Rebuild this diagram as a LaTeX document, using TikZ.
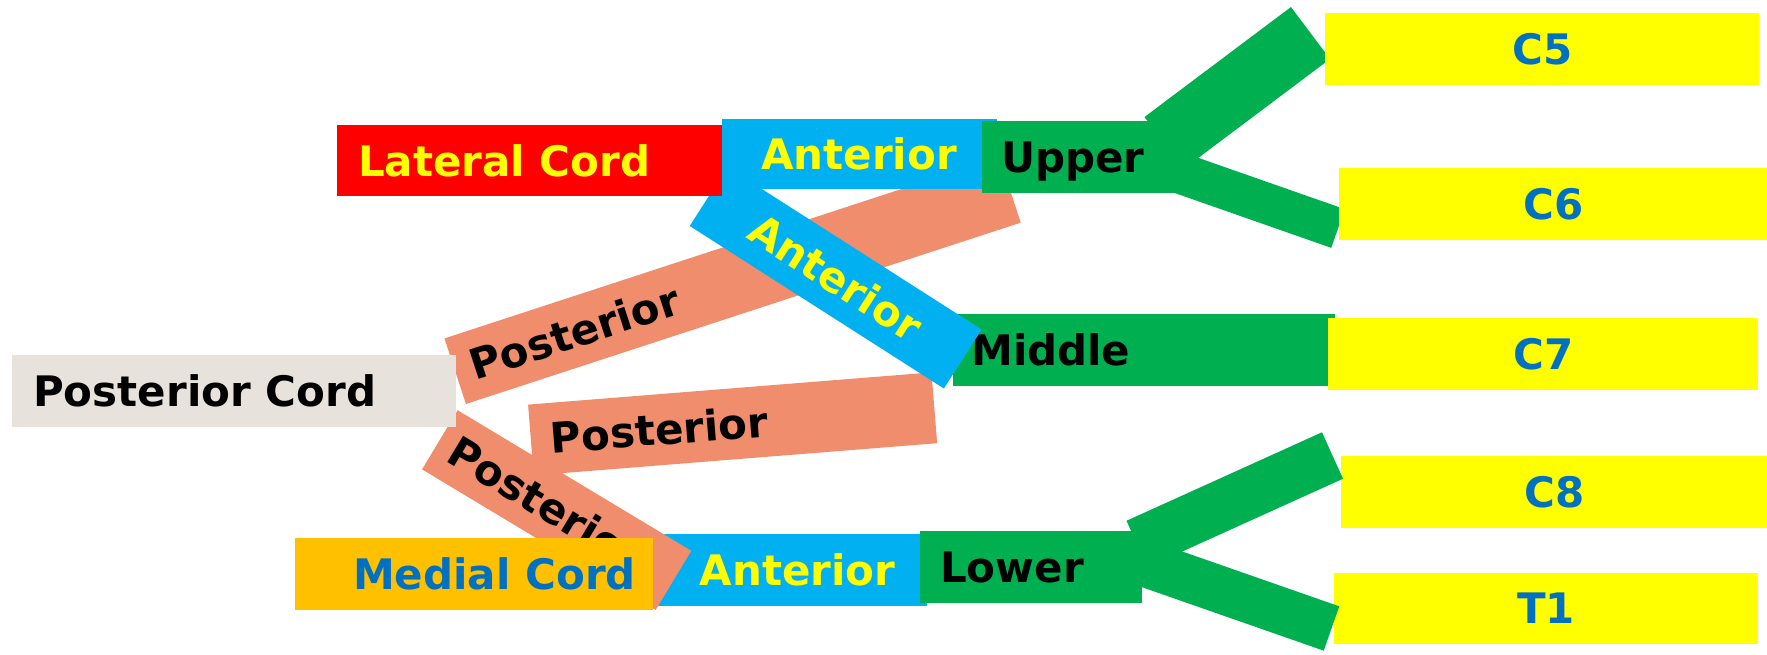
\documentclass[tikz,border=0pt]{standalone}
\usepackage{fontspec}
\setmainfont{DejaVu Sans}
\definecolor{cred}{HTML}{FF0000}
\definecolor{cyel}{HTML}{FFFF00}
\definecolor{ccyan}{HTML}{00B0F0}
\definecolor{cgreen}{HTML}{00B050}
\definecolor{corange}{HTML}{FFC000}
\definecolor{cblue}{HTML}{0070C0}
\definecolor{csalmon}{HTML}{EF8D6C}
\definecolor{cbeige}{HTML}{E7E3DC}
\tikzset{
  lbl/.style={font=\fontsize{42}{42}\selectfont\bfseries, text height=30.6pt, text depth=0pt, inner sep=0pt},
  rbox/.style={inner sep=0pt, draw=none, anchor=north west},
}
\begin{document}
\begin{tikzpicture}[x=1pt,y=-1pt]
\useasboundingbox (0,0) rectangle (1767,654);
\fill[white] (0,0) rectangle (1767,654);

% upper posterior band
\coordinate (pa1) at (455.2,371.2);
\coordinate (pa2) at (1010,189.85);
\draw[csalmon, line width=69pt] (pa1) -- (pa2) node[lbl, text=black, sloped, pos=0.215] (paT) {Posterior};
% middle posterior band
\coordinate (pb1) at (530.9,440);
\coordinate (pb2) at (934.3,407.8);
\draw[csalmon, line width=71pt] (pb1) -- (pb2) node[lbl, text=black, sloped, pos=0.318] (pbT) {Posterior};

% Middle box
\node[rbox, fill=cgreen, minimum width=382pt, minimum height=72pt] (mid) at (953,314) {};
\node[lbl, text=black, anchor=west] (midT) at ([xshift=18pt]mid.west) {Middle};

% diagonal anterior band
\coordinate (aa1) at (708.6,196.5);
\coordinate (aa2) at (962.75,359);
\draw[ccyan, line width=70pt] (aa1) -- (aa2) node[lbl, text=cyel, sloped, pos=0.5] (aaT) {Anterior};

% Lateral cord
\node[rbox, fill=cred, minimum width=385pt, minimum height=71pt] (lat) at (337,125) {};
\node[lbl, text=cyel, anchor=west] (latT) at ([xshift=21pt]lat.west) {Lateral Cord};
% top anterior
\node[rbox, fill=ccyan, minimum width=275pt, minimum height=70.5pt] (ant1) at (722,118.5) {};
\node[lbl, text=cyel] (ant1T) at (859,153.75) {Anterior};
% Upper
\node[rbox, fill=cgreen, minimum width=208pt, minimum height=72pt] (up) at (982,121) {};
\node[lbl, text=black, anchor=west] (upT) at ([xshift=19pt]up.west) {Upper};
% green Y bands
\coordinate (g51) at (1164,143);
\coordinate (g52) at (1310.5,33);
\draw[cgreen, line width=65pt] (g51) -- (g52);
\coordinate (g61) at (1181,173.5);
\coordinate (g62) at (1338,228.5);
\draw[cgreen, line width=41pt] (g61) -- (g62);

% yellow root boxes
\node[rbox, fill=cyel, minimum width=434pt, minimum height=72pt] (c5) at (1325,13) {};
\node[lbl, text=cblue] (c5T) at (c5.center) {C5};
\node[rbox, fill=cyel, minimum width=428pt, minimum height=72pt] (c6) at (1339,168) {};
\node[lbl, text=cblue] (c6T) at (c6.center) {C6};
\node[rbox, fill=cyel, minimum width=430pt, minimum height=72pt] (c7) at (1328,318) {};
\node[lbl, text=cblue] (c7T) at (c7.center) {C7};
\node[rbox, fill=cyel, minimum width=426pt, minimum height=71.5pt] (c8) at (1341,456) {};
\node[lbl, text=cblue] (c8T) at (c8.center) {C8};
\node[rbox, fill=cyel, minimum width=424pt, minimum height=71.5pt] (t1) at (1334,572.5) {};
\node[lbl, text=cblue] (t1T) at (t1.center) {T1};

% bottom anterior
\node[rbox, fill=ccyan, minimum width=276.5pt, minimum height=71.5pt] (ant2) at (650,534) {};
\node[lbl, text=cyel] (ant2T) at (797.5,569.75) {Anterior};
% lower posterior band
\coordinate (pc1) at (439.85,439.8);
\coordinate (pc2) at (673.5,580.35);
\draw[csalmon, line width=69pt] (pc1) -- (pc2) node[lbl, text=black, sloped, pos=0.453] (pcT) {Posterior};
% Medial cord
\node[rbox, fill=corange, minimum width=358pt, minimum height=71.3pt] (med) at (295,538) {};
\node[lbl, text=cblue, anchor=west] (medT) at ([xshift=58pt]med.west) {Medial Cord};
% Lower
\node[rbox, fill=cgreen, minimum width=222pt, minimum height=71.6pt] (low) at (920,531) {};
\node[lbl, text=black, anchor=west] (lowT) at ([xshift=20pt]low.west) {Lower};
\coordinate (g81) at (1137,544);
\coordinate (g82) at (1332.5,455.5);
\draw[cgreen, line width=51pt] (g81) -- (g82);
\coordinate (gt1) at (1124,556);
\coordinate (gt2) at (1331.5,628.5);
\draw[cgreen, line width=47pt] (gt1) -- (gt2);

% Posterior cord
\node[rbox, fill=cbeige, minimum width=444pt, minimum height=72pt] (pos) at (12,355) {};
\node[lbl, text=black, anchor=west] (posT) at ([xshift=21pt]pos.west) {Posterior Cord};
\end{tikzpicture}
\end{document}
